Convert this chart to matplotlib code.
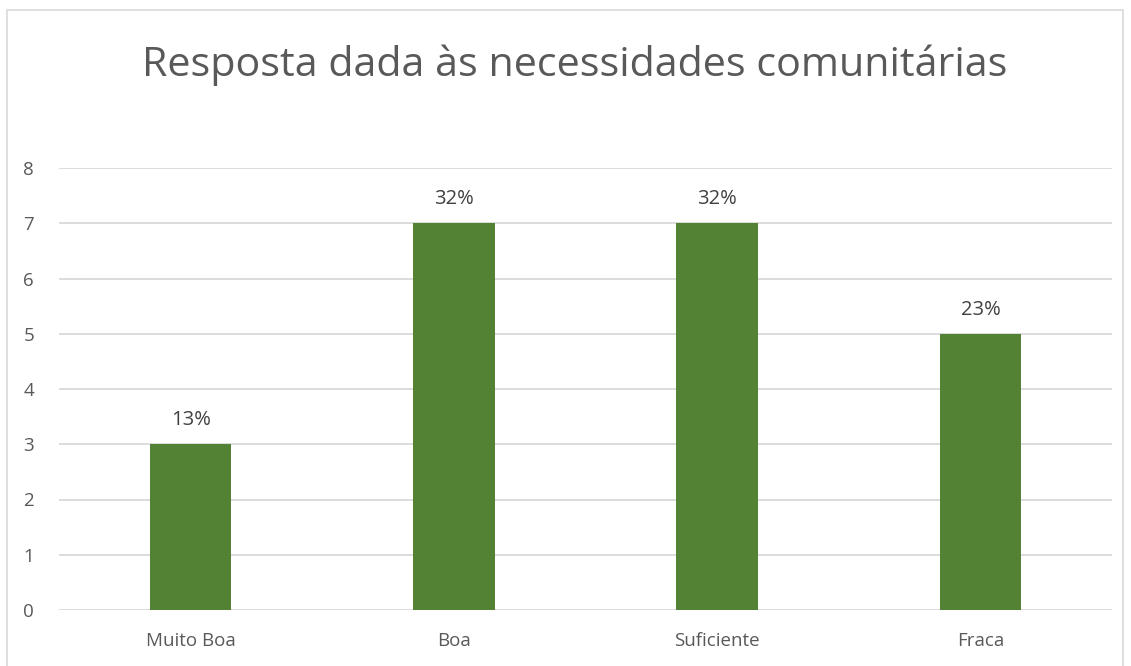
import numpy as np
from matplotlib import pyplot as plt
from matplotlib.patches import Rectangle

categories = ['Muito Boa', 'Boa', 'Suficiente', 'Fraca']
counts = [3, 7, 7, 5]
pct_labels = ['13%', '32%', '32%', '23%']

plt.rcParams['font.family'] = ['Open Sans', 'DejaVu Sans']

fig = plt.figure(figsize=(11.31, 6.66), dpi=100)
ax = fig.add_axes([0.0522, 0.0841, 0.931, 0.6636])

x = np.arange(len(categories))
bars = ax.bar(x, counts, width=0.31, color='#548235', zorder=3)
for b, lab in zip(bars, pct_labels):
    ax.annotate(lab, (b.get_x() + b.get_width() / 2, b.get_height()),
                xytext=(0, 10), textcoords='offset points', ha='center', va='bottom',
                fontsize=14.5, color='#404040')

ax.set_xlim(-0.5, len(categories) - 0.5)
ax.set_ylim(0, 8)
ax.set_yticks(range(0, 9))
ax.set_xticks(x)
ax.set_xticklabels(categories)
ax.tick_params(axis='both', length=0, labelsize=13.5, labelcolor='#595959')
ax.tick_params(axis='y', pad=18)
ax.tick_params(axis='x', pad=16)
ax.grid(axis='y', color='#d9d9d9', linewidth=1.3, zorder=0)
for s in ax.spines.values():
    s.set_visible(False)

fig.text(0.5085, 0.902, 'Resposta dada às necessidades comunitárias', ha='center', va='center',
         fontsize=29.7, color='#595959')

fig.patches.append(Rectangle((7 / 1131, -0.01), 1116 / 1131, 1 - 10 / 666 + 0.01,
                             transform=fig.transFigure, fill=False, edgecolor='#d9d9d9', linewidth=1.2))

plt.savefig('out.png', dpi=100)
